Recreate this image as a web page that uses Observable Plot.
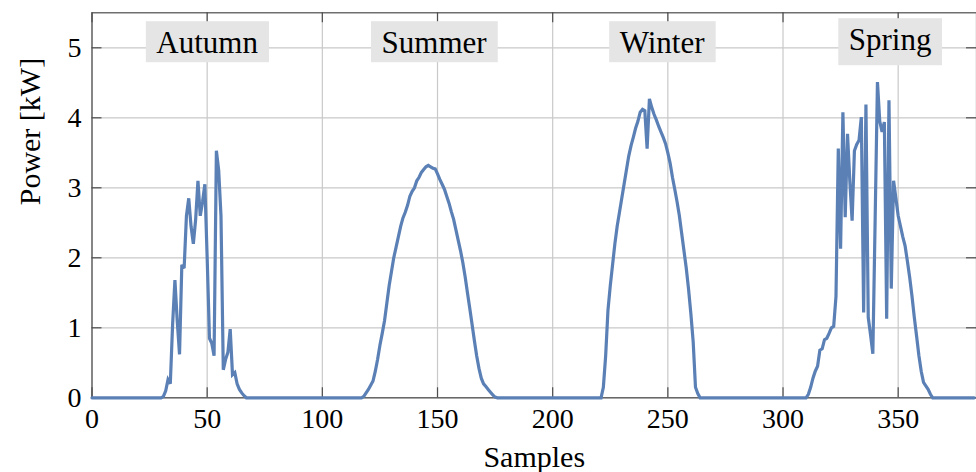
<!DOCTYPE html>
<html><head><meta charset="utf-8">
<script src="https://cdn.jsdelivr.net/npm/d3@7"></script>
<script src="https://cdn.jsdelivr.net/npm/@observablehq/plot@0.6"></script>
<style>
html,body{margin:0;padding:0;background:#fff;}
#chart svg{display:block;}
</style></head><body><div id="chart"></div>
<script>
// Power [kW] per sample, samples 0..383
const power = [
  0,0,0,0,0,0,0,0,0,0,0,0,0,0,0,0,0,0,0,0,
  0,0,0,0,0,0,0,0,0,0,0,0.02,0.1,0.26,0.2,1.05,1.68,1.1,0.62,1.9,
  1.85,2.6,2.85,2.45,2.2,2.55,3.1,2.6,2.8,3.05,2.0,0.85,0.78,0.6,3.53,3.25,2.6,0.4,0.55,0.65,
  0.98,0.33,0.36,0.2,0.12,0.07,0.03,0,0,0,0,0,0,0,0,0,0,0,0,0,
  0,0,0,0,0,0,0,0,0,0,0,0,0,0,0,0,0,0,0,0,
  0,0,0,0,0,0,0,0,0,0,0,0,0,0,0,0,0,0,0.02,0.07,
  0.12,0.18,0.24,0.38,0.55,0.75,0.92,1.1,1.35,1.6,1.8,2.0,2.15,2.3,2.45,2.57,2.65,2.75,2.88,2.95,
  3.0,3.1,3.15,3.22,3.26,3.3,3.32,3.3,3.28,3.27,3.2,3.12,3.05,2.98,2.88,2.78,2.66,2.55,2.4,2.25,
  2.1,1.93,1.73,1.5,1.28,1.05,0.82,0.6,0.42,0.28,0.2,0.16,0.12,0.08,0.04,0.01,0,0,0,0,
  0,0,0,0,0,0,0,0,0,0,0,0,0,0,0,0,0,0,0,0,
  0,0,0,0,0,0,0,0,0,0,0,0,0,0,0,0,0,0,0,0,
  0,0,0.15,0.6,1.25,1.6,1.9,2.2,2.45,2.65,2.85,3.05,3.25,3.45,3.6,3.72,3.85,3.95,4.08,4.12,
  4.1,3.56,4.27,4.15,4.05,3.97,3.88,3.8,3.72,3.63,3.5,3.35,3.15,2.98,2.8,2.6,2.35,2.1,1.85,1.55,
  1.2,0.8,0.15,0.06,0,0,0,0,0,0,0,0,0,0,0,0,0,0,0,0,
  0,0,0,0,0,0,0,0,0,0,0,0,0,0,0,0,0,0,0,0,
  0,0,0,0,0,0,0,0,0,0,0,0.05,0.15,0.28,0.38,0.45,0.68,0.7,0.83,0.85,
  0.92,1.0,1.02,1.45,3.56,2.13,4.08,2.58,3.77,3.1,2.53,3.53,3.62,3.68,4.01,1.22,4.19,1.15,0.9,0.63,
  2.55,4.51,3.95,3.8,3.94,1.13,4.25,1.56,3.1,2.85,2.6,2.45,2.3,2.17,1.95,1.72,1.45,1.15,0.88,0.6,
  0.38,0.22,0.17,0.12,0.05,0,0,0,0,0,0,0,0,0,0,0,0,0,0,0,
  0,0,0,0
];
const seasons = ["Autumn", "Summer", "Winter", "Spring"];
const seasonX = [50, 148.5, 247.5, 346.5];
const seasonY = [5.08, 5.08, 5.08, 5.08];
const xTicks = [0, 50, 100, 150, 200, 250, 300, 350];
const yTicks = [0, 1, 2, 3, 4, 5];
const xDomain = [0, 384];
const yDomain = [0, 5.5];
const xTitle = "Samples";
const yTitle = "Power [kW]";

const W = 976, H = 472, mL = 91.5, mR = 0, mT = 12.3, mB = 74.7;
const plotW = W - mL - mR, plotH = H - mT - mB;
const serif = "'Liberation Serif', 'Times New Roman', serif";
const lineColor = "#5b80b6";
const axisColor = "#4d4d4d";
const gridColor = "#c9c9c9";

const chart = Plot.plot({
  width: W, height: H,
  marginLeft: mL, marginRight: mR, marginTop: mT, marginBottom: mB,
  style: {fontFamily: serif, background: "#fff", color: "#000"},
  x: {domain: xDomain, axis: null},
  y: {domain: yDomain, axis: null},
  marks: [
    Plot.gridX(xTicks, {stroke: gridColor, strokeOpacity: 1, strokeWidth: 1.2}),
    Plot.gridY(yTicks, {stroke: gridColor, strokeOpacity: 1, strokeWidth: 1.2}),
    Plot.frame({stroke: axisColor, strokeWidth: 1.2}),
    Plot.ruleX(xTicks, {insetTop: plotH - 10, stroke: axisColor, strokeWidth: 1.2}),
    Plot.ruleX(xTicks, {insetBottom: plotH - 10, stroke: axisColor, strokeWidth: 1.2}),
    Plot.ruleY(yTicks, {insetRight: plotW - 10, stroke: axisColor, strokeWidth: 1.2}),
    Plot.ruleY(yTicks, {insetLeft: plotW - 10, stroke: axisColor, strokeWidth: 1.2}),
    // tick labels
    Plot.text(xTicks, {x: d => d, frameAnchor: "bottom", text: d => String(d), dy: 21.7,
      fontSize: 28, lineAnchor: "middle", textAnchor: "middle", fill: "#000"}),
    Plot.text(yTicks, {y: d => d, frameAnchor: "left", text: d => String(d), dx: -10.5,
      fontSize: 28, lineAnchor: "middle", textAnchor: "end", fill: "#000"}),
    Plot.line(power, {x: (d, i) => i, y: d => d, stroke: lineColor, strokeWidth: 3.2, strokeLinejoin: "miter", strokeMiterlimit: 3}),
    Plot.text(seasons, {x: (d, i) => seasonX[i], y: (d, i) => seasonY[i], text: d => d,
      fontSize: 31, lineAnchor: "middle", fill: "#000"}),
    Plot.text([xTitle], {frameAnchor: "bottom", text: d => d, dy: 60, fontSize: 30, lineAnchor: "middle", fill: "#000"}),
    Plot.text([yTitle], {frameAnchor: "left", text: d => d, dx: -61.6, rotate: -90, fontSize: 30, lineAnchor: "middle", fill: "#000"})
  ]
});
document.getElementById("chart").append(chart);

// Grey boxes behind the season labels (sized from the rendered text)
(function () {
  const svgRect = chart.getBoundingClientRect();
  const ys = chart.scale("y");
  const texts = Array.from(chart.querySelectorAll("text")).filter(t => seasons.includes(t.textContent.trim()));
  texts.forEach(t => {
    const name = t.textContent.trim();
    const i = seasons.indexOf(name);
    const desc = /[gjpqy]/.test(name);
    // Plot already shifts by 0.32em; nudge baseline so ink is centred in box
    t.setAttribute("dy", desc ? "-2.1" : "0.9");
    const r = t.getBoundingClientRect();
    const cy = ys.apply(seasonY[i]);
    const h = desc ? 47 : 41;
    const rect = document.createElementNS("http://www.w3.org/2000/svg", "rect");
    const g = t.parentNode;
    const host = g.tagName.toLowerCase() === "g" ? g : chart;
    const ctm = host.getCTM && host.getCTM();
    const ox = ctm ? ctm.e : 0, oy = ctm ? ctm.f : 0;
    rect.setAttribute("x", r.left - svgRect.left - 10.5 - ox);
    rect.setAttribute("width", r.width + 21);
    rect.setAttribute("y", cy - h / 2 - oy);
    rect.setAttribute("height", h);
    rect.setAttribute("fill", "#e5e5e5");
    host.insertBefore(rect, host.firstChild);
  });
})();
</script>
</body></html>
